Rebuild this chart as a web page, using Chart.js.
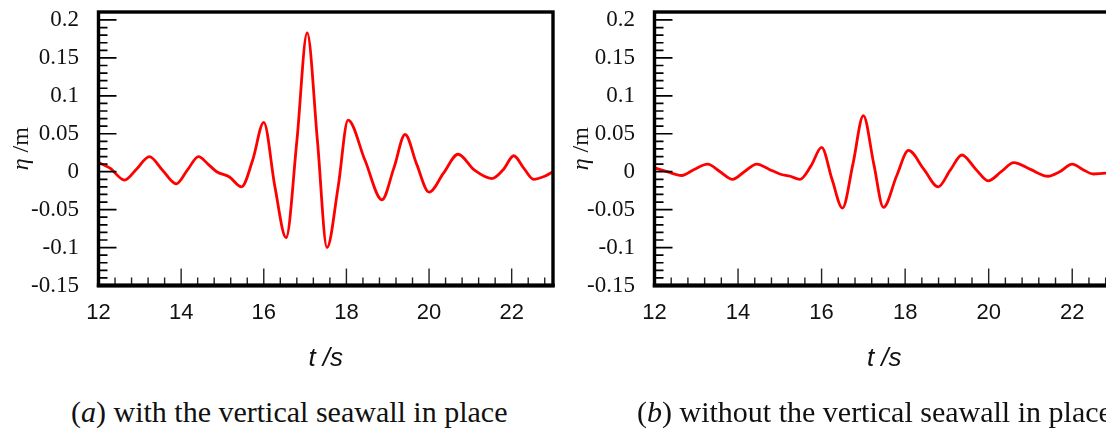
<!DOCTYPE html>
<html>
<head>
<meta charset="utf-8">
<script src="https://cdn.jsdelivr.net/npm/chart.js@4/dist/chart.umd.min.js"></script>
<style>
  html, body { margin: 0; padding: 0; background: #fff; }
  body { width: 1106px; height: 432px; overflow: hidden; position: relative; }
  canvas { position: absolute; top: 0; }
  #chart_a { left: 0; }
  #chart_b { left: 556px; }
  .caption {
    position: absolute; top: 397px; white-space: nowrap; color: #111;
    font: 30px "Liberation Serif", "Times New Roman", serif; line-height: 30px;
  }
</style>
</head>
<body>
<canvas id="chart_a" width="580" height="385"></canvas>
<canvas id="chart_b" width="580" height="385"></canvas>
<div class="caption" id="cap_a" style="left:71px"></div>
<div class="caption" id="cap_b" style="left:637px"></div>
<script>
// surface elevation at the gauge, with the seawall
const timeA = [12.0, 12.27, 12.63, 12.93, 13.23, 13.55, 13.88, 14.15, 14.42, 14.65, 14.86, 15.17, 15.46,
  15.73, 16.0, 16.27, 16.54, 16.8, 17.05, 17.3, 17.53, 17.8, 18.04, 18.45, 18.86, 19.15, 19.42,
  19.7, 20.0, 20.35, 20.7, 21.1, 21.52, 21.8, 22.05, 22.3, 22.53, 22.8, 23.0];
const etaA = [0.012, 0.005, -0.011, 0.004, 0.02, 0.002, -0.016, 0.002, 0.02, 0.01, 0.0, -0.007, -0.02,
  0.015, 0.065, -0.02, -0.087, 0.04, 0.183, 0.04, -0.1, -0.02, 0.068, 0.015, -0.037, 0.005, 0.049,
  0.01, -0.027, -0.002, 0.023, 0.002, -0.009, 0.003, 0.021, 0.004, -0.01, -0.006, 0.0];

// same gauge, seawall removed
const timeB = [12.0, 12.3, 12.65, 12.95, 13.27, 13.57, 13.87, 14.15, 14.45, 14.75, 15.0, 15.25, 15.48,
  15.75, 16.0, 16.25, 16.5, 16.75, 17.0, 17.25, 17.48, 17.8, 18.08, 18.45, 18.79, 19.08, 19.36,
  19.68, 19.99, 20.3, 20.6, 21.0, 21.42, 21.7, 22.0, 22.25, 22.5, 22.8, 23.0];
const etaB = [0.005, 0.0, -0.005, 0.003, 0.01, 0.0, -0.01, 0.0, 0.01, 0.003, -0.003, -0.006, -0.01,
  0.008, 0.032, -0.01, -0.048, 0.01, 0.074, 0.01, -0.047, -0.005, 0.028, 0.003, -0.02, 0.002, 0.022,
  0.004, -0.012, 0.0, 0.012, 0.003, -0.006, 0.0, 0.01, 0.003, -0.003, -0.002, 0.0];

const xTicks = [12, 14, 16, 18, 20, 22];
const yTicks = [-0.15, -0.1, -0.05, 0, 0.05, 0.1, 0.15, 0.2];
const xTitle = 't /s';
const yTitleSymbol = 'η';
const yTitleUnit = ' /m';
const captions = [['a', ' with the vertical seawall in place'], ['b', ' without the vertical seawall in place']];

const serif = '"Liberation Serif", "Times New Roman", serif';
const sans = '"Liberation Sans", Arial, sans-serif';

// black box around the plot with inward ticks on the left and bottom
const frame = {
  id: 'frame',
  afterDatasetsDraw(chart) {
    const {ctx, chartArea: a, scales: {x, y}} = chart;
    ctx.save();
    ctx.strokeStyle = '#000';
    ctx.lineWidth = 1.7;
    ctx.beginPath();
    for (let k = 0; k <= 35; k++) {
      const py = y.getPixelForValue(-0.15 + k * 0.01);
      const len = k % 5 === 0 ? 18 : 9;
      ctx.moveTo(a.left, py);
      ctx.lineTo(a.left + len, py);
    }
    ctx.stroke();
    ctx.strokeStyle = '#222';
    ctx.lineWidth = 1.4;
    ctx.beginPath();
    for (let k = 0; k <= 27; k++) {
      const px = x.getPixelForValue(12 + k * 0.4);
      const len = k % 5 === 0 ? 17 : 8;
      ctx.moveTo(px, a.bottom);
      ctx.lineTo(px, a.bottom - len);
    }
    ctx.stroke();
    ctx.strokeStyle = '#000';
    ctx.lineWidth = 3.4;
    ctx.strokeRect(a.left, a.top, a.right - a.left, a.bottom - a.top);
    ctx.lineWidth = 4.2;
    ctx.beginPath();
    ctx.moveTo(a.left - 1.7, a.bottom);
    ctx.lineTo(a.right + 1.7, a.bottom);
    ctx.stroke();
    ctx.restore();
  }
};

// rotated y title: italic eta, upright unit
const etaTitle = {
  id: 'etaTitle',
  afterDraw(chart, args, opts) {
    const {ctx, chartArea: a} = chart;
    ctx.save();
    ctx.translate(opts.x, (a.top + a.bottom) / 2);
    ctx.rotate(-Math.PI / 2);
    ctx.fillStyle = '#111';
    ctx.textBaseline = 'alphabetic';
    const f1 = 'italic 24px ' + serif, f2 = '24px ' + serif;
    ctx.font = f1;
    const w1 = ctx.measureText(yTitleSymbol).width;
    ctx.font = f2;
    const w2 = ctx.measureText(yTitleUnit).width;
    const x0 = -(w1 + w2) / 2;
    ctx.font = f1;
    ctx.fillText(yTitleSymbol, x0, 0);
    ctx.font = f2;
    ctx.fillText(yTitleUnit, x0 + w1, 0);
    ctx.restore();
  }
};

function fmt(v) {
  return String(parseFloat(v.toFixed(2)));
}

// drop the label overhang so the plot box sits where the padding says
function noOverhang(s) {
  s.paddingTop = 0;
  s.paddingBottom = 0;
  s.paddingLeft = 0;
  s.paddingRight = 0;
}

function makeChart(id, times, etas, padRight, titleX) {
  const points = times.map((t, i) => ({x: t, y: etas[i]}));
  return new Chart(document.getElementById(id), {
    type: 'scatter',
    data: {
      datasets: [{
        data: points,
        showLine: true,
        fill: false,
        borderColor: '#ff0000',
        borderWidth: 2.8,
        pointRadius: 0,
        cubicInterpolationMode: 'monotone'
      }]
    },
    options: {
      responsive: false,
      animation: false,
      layout: {padding: {top: 12, right: padRight, left: 0, bottom: 0}},
      plugins: {
        legend: {display: false},
        tooltip: {enabled: false},
        etaTitle: {x: titleX}
      },
      scales: {
        x: {
          type: 'linear', min: 12, max: 23,
          grid: {display: false, drawTicks: false},
          border: {display: false},
          afterBuildTicks: s => { s.ticks = xTicks.map(v => ({value: v})); },
          afterFit: s => { s.height = 99.5; noOverhang(s); },
          ticks: {
            padding: 14, maxRotation: 0, autoSkip: false, color: '#111',
            font: {family: sans, size: 22},
            callback: v => String(v)
          },
          title: {
            display: true, text: xTitle, color: '#111',
            font: {family: sans, size: 26, style: 'italic'},
            padding: {top: 0, bottom: 11}
          }
        },
        y: {
          type: 'linear', min: -0.15, max: 0.2105,
          grid: {display: false, drawTicks: false},
          border: {display: false},
          afterBuildTicks: s => { s.ticks = yTicks.map(v => ({value: v})); },
          afterFit: s => { s.width = 98.5; noOverhang(s); },
          ticks: {
            padding: 19.5, color: '#111',
            font: {family: serif, size: 23},
            callback: v => fmt(v)
          }
        }
      }
    },
    plugins: [frame, etaTitle]
  });
}

makeChart('chart_a', timeA, etaA, 27, 28);
makeChart('chart_b', timeB, etaB, 22, 32);

['cap_a', 'cap_b'].forEach((id, i) => {
  const el = document.getElementById(id);
  el.append('(');
  const it = document.createElement('i');
  it.textContent = captions[i][0];
  el.append(it, ')' + captions[i][1]);
});
</script>
</body>
</html>
